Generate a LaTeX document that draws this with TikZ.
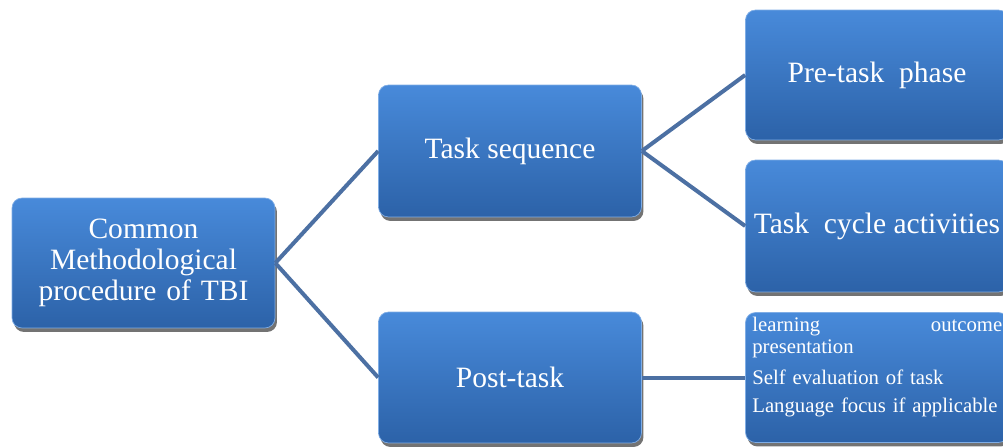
\documentclass[tikz,border=0pt]{standalone}
\usepackage{fontspec}
\setmainfont{Liberation Serif}
\usetikzlibrary{shadows}

\definecolor{boxtop}{RGB}{72,138,218}
\definecolor{boxbot}{RGB}{44,98,168}
\definecolor{linkblue}{RGB}{76,112,163}

\tikzset{
    stagebox/.style={rectangle, rounded corners=0.2cm, minimum width=5.26cm, minimum height=2.6cm,
        top color=boxtop, bottom color=boxbot, draw=boxtop!70!white, line width=0.4pt,
        drop shadow={shadow xshift=0.04cm, shadow yshift=-0.08cm, opacity=0.55, fill=black},
        text=white, align=center, font=\fontsize{16.8}{17.8}\selectfont, inner sep=0.04cm},
    link/.style={linkblue, line width=0.08cm}
}

\begin{document}
\begin{tikzpicture}[x=0.02cm, y=-0.02cm]
    \useasboundingbox (0,0) rectangle (1003,446); % cadre
    % Boites
    \node[stagebox, text width=5.1cm] (root) at (143.5,263) {Common\\Methodological\\procedure of TBI};
    \node[stagebox, minimum height=2.64cm] (seq) at (510,151) {Task sequence};
    \node[stagebox, minimum height=2.62cm] (post) at (510,377.5) {Post-task};
    \node[stagebox] (pre) at (877,75) {Pre-task\ \ phase}; % coupee a droite
    \node[stagebox, minimum height=2.64cm] (cyc) at (877,226) {Task\ \ cycle activities};
    \node[stagebox] (out) at (877,377.5) {};
    \node[anchor=north west, text=white, text width=5cm, align=left, inner sep=0pt,
        font=\fontsize{11.8}{12.2}\selectfont] (outtxt) at (752,317)
        {\makebox[5cm][s]{learning\hfill outcome}\\presentation\\[0.2cm]
         Self evaluation of task\\[0.12cm]Language focus if applicable};
    % Liens
    \draw[link] (root.east) -- (seq.west);
    \draw[link] (root.east) -- (post.west);
    \draw[link] (seq.east) -- (pre.west);
    \draw[link] (seq.east) -- (cyc.west);
    \draw[link] (post.east) -- (out.west);
\end{tikzpicture}
\end{document}
